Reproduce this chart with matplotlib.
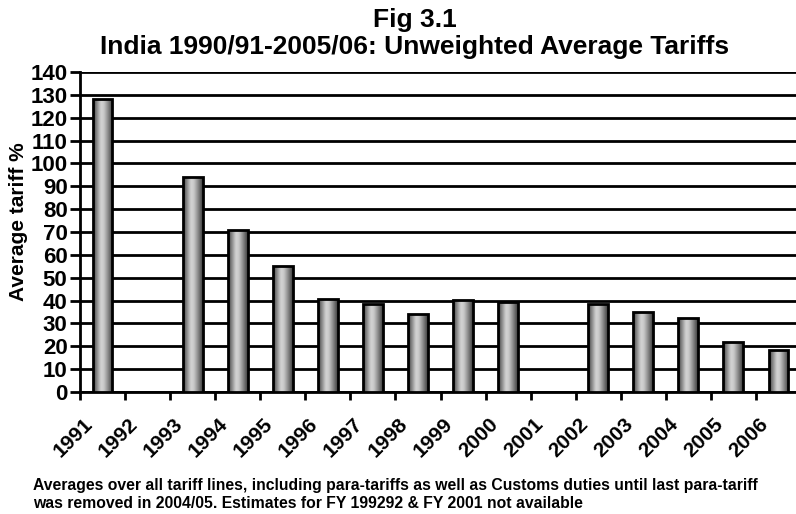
import numpy as np
import matplotlib
matplotlib.use("Agg")
import matplotlib.pyplot as plt
from matplotlib.colors import LinearSegmentedColormap

plt.rcParams['font.family'] = ['Liberation Sans', 'DejaVu Sans']
plt.rcParams['font.weight'] = 'bold'

years = ['1991', '1992', '1993', '1994', '1995', '1996', '1997', '1998',
         '1999', '2000', '2001', '2002', '2003', '2004', '2005', '2006']
tariffs = [128, np.nan, 94, 71, 55, 40.7, 38.7, 34.3,
           40.1, 39.4, np.nan, 38.4, 34.9, 32.5, 22.0, 18.3]
yticks = list(range(0, 141, 10))

title_line1 = 'Fig 3.1'
title_line2 = 'India 1990/91-2005/06: Unweighted Average Tariffs'
ylabel = 'Average tariff %'
caption = ('Averages over all tariff lines, including para-tariffs as well as Customs duties until last para-tariff\n'
           'was removed in 2004/05. Estimates for FY 199292 & FY 2001 not available')

W, H = 796, 514
fig = plt.figure(figsize=(W / 100, H / 100), dpi=100)
left, right, bottom, top = 80, 801, 392, 72
ax = fig.add_axes([left / W, (H - bottom) / H, (right - left) / W, (bottom - top) / H])

x = np.arange(len(years))
bw = 0.44
bars = ax.bar(x, tariffs, width=bw, facecolor='none', edgecolor='black',
              linewidth=2.0, zorder=4)

cmap = LinearSegmentedColormap.from_list('cyl', [
    (0.0, '#3a3a3a'), (0.15, '#7a7a7a'), (0.4, '#d4d4d4'),
    (0.55, '#c8c8c8'), (0.8, '#7e7e7e'), (1.0, '#3c3c3c')])
grad = np.linspace(0, 1, 64).reshape(1, -1)
for b, v in zip(bars, tariffs):
    if np.isnan(v):
        continue
    x0 = b.get_x()
    im = ax.imshow(grad, cmap=cmap, aspect='auto',
                   extent=(x0, x0 + b.get_width(), 0, v), zorder=3,
                   interpolation='bicubic')
    im.set_clip_path(b)

ax.set_xlim(-0.5, len(years) - 0.5)
ax.set_ylim(0, 140)
ax.set_yticks(yticks)
ax.set_yticklabels([str(t) for t in yticks], fontsize=16, fontweight='bold')
ax.yaxis.grid(True, color='black', linewidth=2.0, zorder=1)
ax.set_axisbelow(True)

ax.set_xticks(np.arange(len(years) + 1) - 0.5)
ax.set_xticklabels([])
ax.tick_params(axis='x', direction='out', length=6, width=2.0, color='black')
ax.tick_params(axis='y', direction='out', length=7, width=2.0, color='black', pad=2)
for i, lab in enumerate(years):
    ax.annotate(lab, xy=(i, 0), xycoords=('data', 'axes fraction'),
                xytext=(-13, -29), textcoords='offset pixels',
                rotation=45, rotation_mode='anchor', ha='right', va='center',
                fontsize=15, fontweight='bold')

for s in ['top', 'right']:
    ax.spines[s].set_visible(False)
ax.spines['left'].set_linewidth(2.0)
ax.spines['bottom'].set_linewidth(2.0)

fig.text(415 / W, 1 - 20 / H, title_line1, ha='center', va='center',
         fontsize=19, fontweight='bold')
fig.text(415 / W, 1 - 47 / H, title_line2, ha='center', va='center',
         fontsize=19, fontweight='bold')
fig.text(19 / W, 1 - 222 / H, ylabel, rotation=90, ha='center', va='center',
         fontsize=15, fontweight='bold')
fig.text(33 / W, 1 - 478 / H, caption, ha='left', va='top',
         fontsize=11.3, fontweight='bold', linespacing=1.25)

fig.savefig('out.png', dpi=100)
